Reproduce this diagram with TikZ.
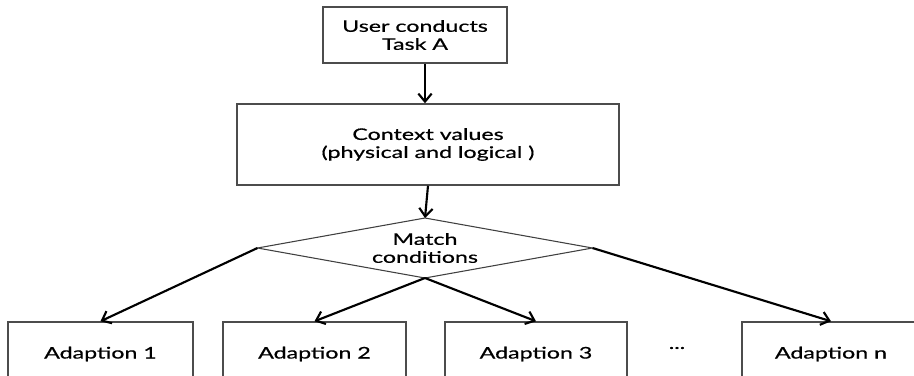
\documentclass[tikz,border=0pt]{standalone}
\usepackage{fontspec}
\setmainfont{Lato}[FakeStretch=1.45,FakeBold=0.6]
\usetikzlibrary{shapes.geometric,arrows.meta}

\tikzset{
  box/.style={draw=black!70, line width=1.1pt, fill=white, align=center,
    inner sep=0pt, font=\fontsize{12}{13.5}\selectfont},
  adapt/.style={box, minimum height=48pt},
  cond/.style={diamond, aspect=5.6, draw=black!75, line width=0.8pt, align=center,
    inner sep=0pt, outer sep=0pt, font=\fontsize{12}{13.5}\selectfont},
  flow/.style={-{Straight Barb[length=6pt,width=10pt]}, line width=1.6pt},
}

\begin{document}
\begin{tikzpicture}[x=0.75pt,y=-0.75pt]
  \useasboundingbox (0,0) rectangle (914,375);
  \clip (0,0) rectangle (914,375);

  \node[box, minimum width=138pt, minimum height=42pt] (task) at (415,35)
    {User conducts\\Task A};
  \node[box, minimum width=286.5pt, minimum height=60.75pt] (ctx) at (428,144.5)
    {Context values\\(physical and logical )};
  \node[cond, minimum width=251.25pt, minimum height=45pt] (match) at (425,248)
    {Match\\conditions};

  % the row of adaptions runs off the page
  \node[adapt, minimum width=138.75pt] (a1) at (100.5,354) {Adaption 1};
  \node[adapt, minimum width=137.25pt] (a2) at (314.5,354) {Adaption 2};
  \node[adapt, minimum width=136.5pt]  (a3) at (536,354)   {Adaption 3};
  \node[adapt, minimum width=133.5pt]  (an) at (831,354)   {Adaption n};
  \node[font=\fontsize{12}{13.5}\selectfont] (dots) at (677,348) {...};

  \draw[flow] (task.south -| match.north) -- (ctx.north -| match.north);
  \draw[flow] (ctx.south) -- (match.north);
  \draw[flow] (match.west) -- (a1.north);
  \draw[flow] (match.south) -- (a2.north);
  \draw[flow] (match.south) -- (a3.north);
  \draw[flow] (match.east) -- (an.north);
\end{tikzpicture}
\end{document}
